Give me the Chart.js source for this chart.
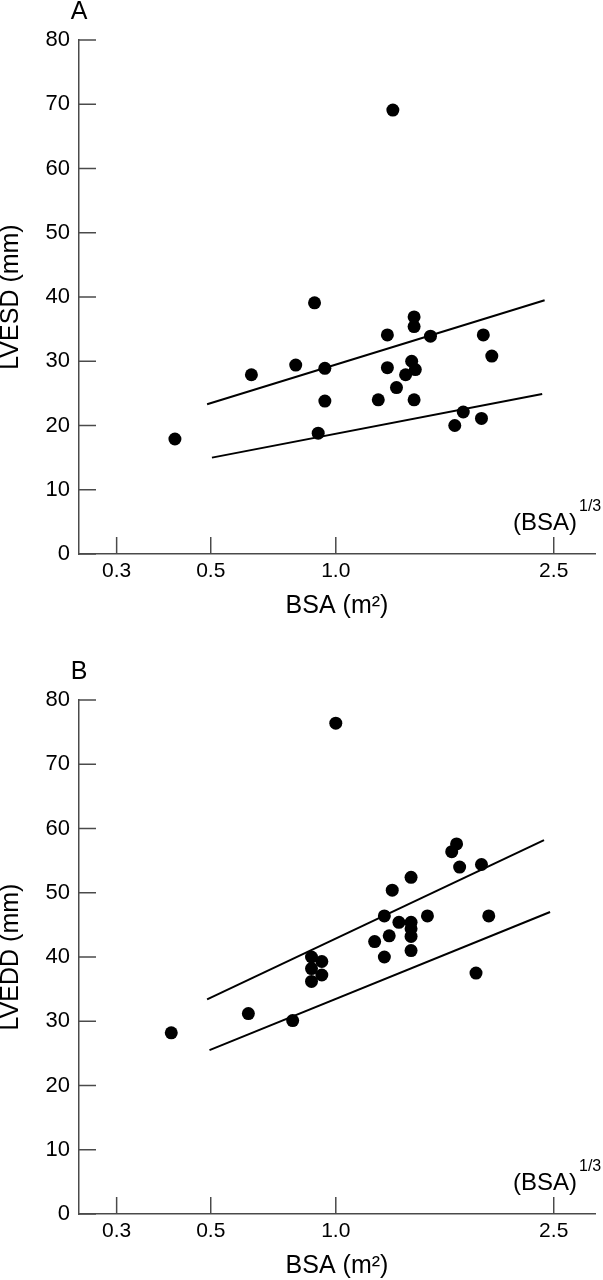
<!DOCTYPE html>
<html>
<head>
<meta charset="utf-8">
<script src="https://cdn.jsdelivr.net/npm/chart.js@4.4.1/dist/chart.umd.min.js"></script>
<style>
  html, body { margin: 0; padding: 0; background: #ffffff; }
  .panel { position: absolute; left: 0; width: 603px; height: 620px; }
  #wrapA { top: 0; }
  #wrapB { top: 660px; }
</style>
</head>
<body>
<div class="panel" id="wrapA"><canvas id="chartA"></canvas></div>
<div class="panel" id="wrapB"><canvas id="chartB"></canvas></div>
<script>
// x values are (BSA)^(1/3) positions
const tickPositions = [0.639, 0.794, 1.0, 1.359];
const tickLabels = ["0.3", "0.5", "1.0", "2.5"];
const yTicks = [0, 10, 20, 30, 40, 50, 60, 70, 80];

// Panel A: LVESD
const bsaA = [0.735, 0.861, 0.934, 0.965, 0.971, 0.982, 0.982, 1.070, 1.085, 1.085, 1.094, 1.100,
              1.115, 1.125, 1.129, 1.129, 1.129, 1.131, 1.156, 1.196, 1.210, 1.240, 1.243, 1.257];
const lvesd = [17.9, 27.9, 29.4, 39.1, 18.8, 28.9, 23.8, 24.0, 34.1, 29.0, 69.1, 25.9,
               27.9, 30.0, 36.9, 35.4, 24.0, 28.7, 33.9, 20.0, 22.1, 21.1, 34.1, 30.8];
const lineAUpperX = [0.788, 1.344];
const lineAUpperY = [23.3, 39.5];
const lineALowerX = [0.796, 1.340];
const lineALowerY = [15.0, 24.9];

// Panel B: LVEDD
const bsaB = [0.729, 0.856, 0.929, 0.960, 0.960, 0.960, 0.977, 0.977, 1.000, 1.064, 1.080, 1.080, 1.088, 1.093,
              1.104, 1.124, 1.124, 1.124, 1.124, 1.124, 1.151, 1.191, 1.199, 1.204, 1.231, 1.240, 1.252];
const lvedd = [28.2, 31.2, 30.1, 40.0, 38.2, 36.2, 39.3, 37.2, 76.4, 42.4, 46.4, 40.0, 43.3, 50.4,
               45.4, 52.4, 45.4, 44.4, 43.2, 41.0, 46.4, 56.4, 57.6, 54.0, 37.5, 54.4, 46.4];
const lineBUpperX = [0.788, 1.343];
const lineBUpperY = [33.4, 58.2];
const lineBLowerX = [0.792, 1.353];
const lineBLowerY = [25.5, 47.0];

const FONT = "'Liberation Sans', Arial, Helvetica, sans-serif";
const AXIS_COLOR = '#4a4a4a';

function pts(xs, ys) { return xs.map((x, i) => ({ x: x, y: ys[i] })); }

const innerTicks = {
  id: 'innerTicks',
  afterDraw(chart, args, opts) {
    const ctx = chart.ctx;
    const xs = chart.scales.x, ys = chart.scales.y;
    const area = chart.chartArea;
    ctx.save();
    ctx.strokeStyle = AXIS_COLOR;
    ctx.lineWidth = 1.5;
    ys.ticks.forEach(t => {
      const py = ys.getPixelForValue(t.value);
      ctx.beginPath();
      ctx.moveTo(area.left, py);
      ctx.lineTo(area.left + 17, py);
      ctx.stroke();
    });
    xs.ticks.forEach(t => {
      const px = xs.getPixelForValue(t.value);
      ctx.beginPath();
      ctx.moveTo(px, area.bottom);
      ctx.lineTo(px, area.bottom - 17);
      ctx.stroke();
    });
    // panel letter
    ctx.fillStyle = '#000';
    ctx.font = '25px ' + FONT;
    ctx.textAlign = 'center';
    ctx.textBaseline = 'alphabetic';
    ctx.fillText(opts.letter, area.left, area.top - 21);
    // (BSA)^1/3 annotation
    ctx.font = '24px ' + FONT;
    ctx.textAlign = 'left';
    const bx = area.right - 82, by = area.bottom - 24;
    ctx.fillText('(BSA)', bx, by);
    const w = ctx.measureText('(BSA)').width;
    ctx.font = '16px ' + FONT;
    ctx.fillText('1/3', bx + w + 2, by - 19);
    ctx.restore();
  }
};

function makePanel(id, xs, ys, upX, upY, loX, loY, yTitle, letter) {
  return new Chart(document.getElementById(id), {
    type: 'scatter',
    data: {
      datasets: [
        { data: pts(xs, ys), backgroundColor: '#000', borderColor: '#000', pointRadius: 6.5,
          pointHoverRadius: 6.5, borderWidth: 0, clip: false },
        { data: pts(upX, upY), showLine: true, borderColor: '#000', borderWidth: 2,
          pointRadius: 0, fill: false, clip: false },
        { data: pts(loX, loY), showLine: true, borderColor: '#000', borderWidth: 2,
          pointRadius: 0, fill: false, clip: false }
      ]
    },
    options: {
      responsive: true,
      maintainAspectRatio: false,
      animation: false,
      events: [],
      layout: { padding: { top: 40, right: 8, left: 0, bottom: 0 } },
      plugins: {
        legend: { display: false },
        tooltip: { enabled: false },
        innerTicks: { letter: letter }
      },
      scales: {
        x: {
          type: 'linear',
          min: 0.577,
          max: 1.427,
          afterBuildTicks: (scale) => { scale.ticks = tickPositions.map(v => ({ value: v })); },
          afterFit: (scale) => { scale.height = 66; },
          grid: { display: false, drawTicks: false },
          border: { display: true, color: AXIS_COLOR, width: 1.5 },
          ticks: {
            autoSkip: false, maxRotation: 0, minRotation: 0, padding: 5,
            color: '#000', font: { family: FONT, size: 21 },
            callback: (value, index) => tickLabels[index]
          },
          title: {
            display: true, text: 'BSA (m²)', color: '#000',
            font: { family: FONT, size: 25, lineHeight: 0.9 },
            padding: { top: 0, bottom: 3 }
          }
        },
        y: {
          type: 'linear',
          min: 0,
          max: 80,
          afterBuildTicks: (scale) => { scale.ticks = yTicks.map(v => ({ value: v })); },
          afterFit: (scale) => { scale.width = 79; },
          grid: { display: false, drawTicks: false },
          border: { display: true, color: AXIS_COLOR, width: 1.5 },
          ticks: {
            padding: 9, color: '#000', font: { family: FONT, size: 22 },
            callback: (value) => String(value)
          },
          title: {
            display: true, text: yTitle, color: '#000',
            font: { family: FONT, size: 25, lineHeight: 0.85 },
            padding: { top: 0, bottom: 0 }
          }
        }
      }
    },
    plugins: [innerTicks]
  });
}

makePanel('chartA', bsaA, lvesd, lineAUpperX, lineAUpperY, lineALowerX, lineALowerY, 'LVESD (mm)', 'A');
makePanel('chartB', bsaB, lvedd, lineBUpperX, lineBUpperY, lineBLowerX, lineBLowerY, 'LVEDD (mm)', 'B');
</script>
</body>
</html>
